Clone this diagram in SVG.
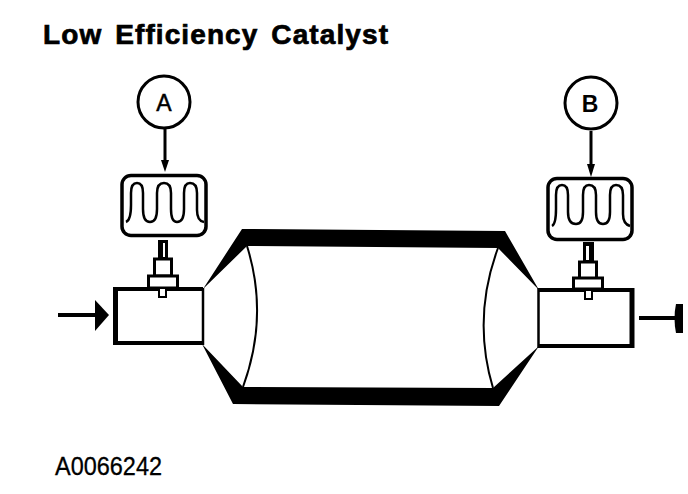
<svg xmlns="http://www.w3.org/2000/svg" width="688" height="494" viewBox="0 0 688 494">
<style>
.ln{fill:none;stroke:#000}
.c{fill:#fff;stroke:#000;stroke-width:3}
.b{fill:#fff;stroke:#000;stroke-width:3.5}
.w{fill:none;stroke:#000;stroke-width:2.500}
.k{fill:#000;stroke:none}
.w2{fill:#fff;stroke:none}
text{font-family:"Liberation Sans",Arial,sans-serif;fill:#000}
</style>
<rect width="688" height="494" fill="#fff"/>
<text id="title" x="43" y="44" font-size="28" font-weight="700" word-spacing="4" stroke="#000" stroke-width="0.7" textLength="345" lengthAdjust="spacing">Low Efficiency Catalyst</text>
<text id="code" x="55" y="475" font-size="25" stroke="#000" stroke-width="0.3" textLength="107" lengthAdjust="spacingAndGlyphs">A0066242</text>
<g id="catalyst-body">
<path class="k" d="M203 289L242 229L505 231L539 290L498 248L247 246Z"/>
<path class="k" d="M202 344L233 404L499 406L539 346L493 388L243 387Z"/>
<path class="ln" stroke-width="2" d="M247 246Q269 316 243 387"/>
<path class="ln" stroke-width="2" d="M498 248Q472 318 493 388"/>
</g>
<g id="inlet-pipe">
<path class="ln" stroke-width="4" d="M203 289H115.500V343H203"/>
<path class="ln" stroke-width="5" d="M115.500 287V345"/>
<path class="ln" stroke-width="2.500" d="M203 288V345"/>
</g>
<g id="outlet-pipe">
<path class="ln" stroke-width="4" d="M538 290H632V346H538"/>
<path class="ln" stroke-width="5" d="M632 288V348"/>
<path class="ln" stroke-width="2.500" d="M538.500 288V348"/>
</g>
<g id="sensor-a">
<rect class="k" x="158" y="240" width="10" height="19"/>
<rect class="w2" x="163" y="243" width="2" height="14"/>
<rect x="154.500" y="259" width="17" height="17" fill="#fff" stroke="#000" stroke-width="3"/>
<rect x="148.500" y="276" width="29" height="12" fill="#fff" stroke="#000" stroke-width="3"/>
<rect x="159" y="288" width="7" height="9" fill="#fff" stroke="#000" stroke-width="2"/>
</g>
<g id="sensor-b">
<rect class="k" x="583" y="242" width="11" height="20"/>
<rect class="w2" x="586" y="246" width="3" height="14"/>
<rect x="579.500" y="262" width="17" height="17" fill="#fff" stroke="#000" stroke-width="3"/>
<rect x="573.500" y="278" width="29" height="11" fill="#fff" stroke="#000" stroke-width="3"/>
<rect x="585" y="290" width="7" height="9" fill="#fff" stroke="#000" stroke-width="2"/>
</g>
<g id="scope-a">
<rect class="b" x="122" y="175.500" width="84" height="60" rx="9"/>
<path class="w" d="M126 222Q131 220 131 205V193Q131 183 137 183Q143 183 143 193V209Q143 222 150 222Q157 222 157 209V193Q157 183 164 183Q171 183 171 193V209Q171 222 177 222Q184 222 184 209V193Q184 183 190 183Q197 183 197 193V210Q197 221 204 222"/>
</g>
<g id="scope-b">
<rect class="b" x="548" y="178.500" width="84" height="61" rx="9"/>
<path class="w" d="M552 226Q556 224 556 209V195Q556 185 562 185Q568 185 568 195V212Q568 224 576 224Q583 224 583 212V195Q583 185 589 185Q596 185 596 195V212Q596 224 603 224Q610 224 610 212V195Q610 185 616 185Q623 185 623 195V214Q623 224 630 226"/>
</g>
<g id="node-a">
<circle class="c" cx="164" cy="102" r="26"/>
<text x="164" y="110.500" font-size="23" text-anchor="middle" stroke="#000" stroke-width="0.5">A</text>
</g>
<g id="node-b">
<circle class="c" cx="591" cy="103" r="26"/>
<text x="590" y="111.500" font-size="23" font-weight="700" text-anchor="middle">B</text>
</g>
<g id="connectors">
<path class="ln" stroke-width="3" d="M165 129V162"/>
<path class="k" d="M161 160L169 160L165 172Z"/>
<path class="ln" stroke-width="3" d="M591 131V166"/>
<path class="k" d="M587 164L595 164L591 177Z"/>
<path class="ln" stroke-width="4" d="M58 315H96"/>
<path class="k" d="M95 300L109 315L95 331Z"/>
<path class="ln" stroke-width="4" d="M639 318H678"/>
<path class="k" d="M676 304L683 304V333L676 333Q673 318 676 304Z"/>
</g>
</svg>
